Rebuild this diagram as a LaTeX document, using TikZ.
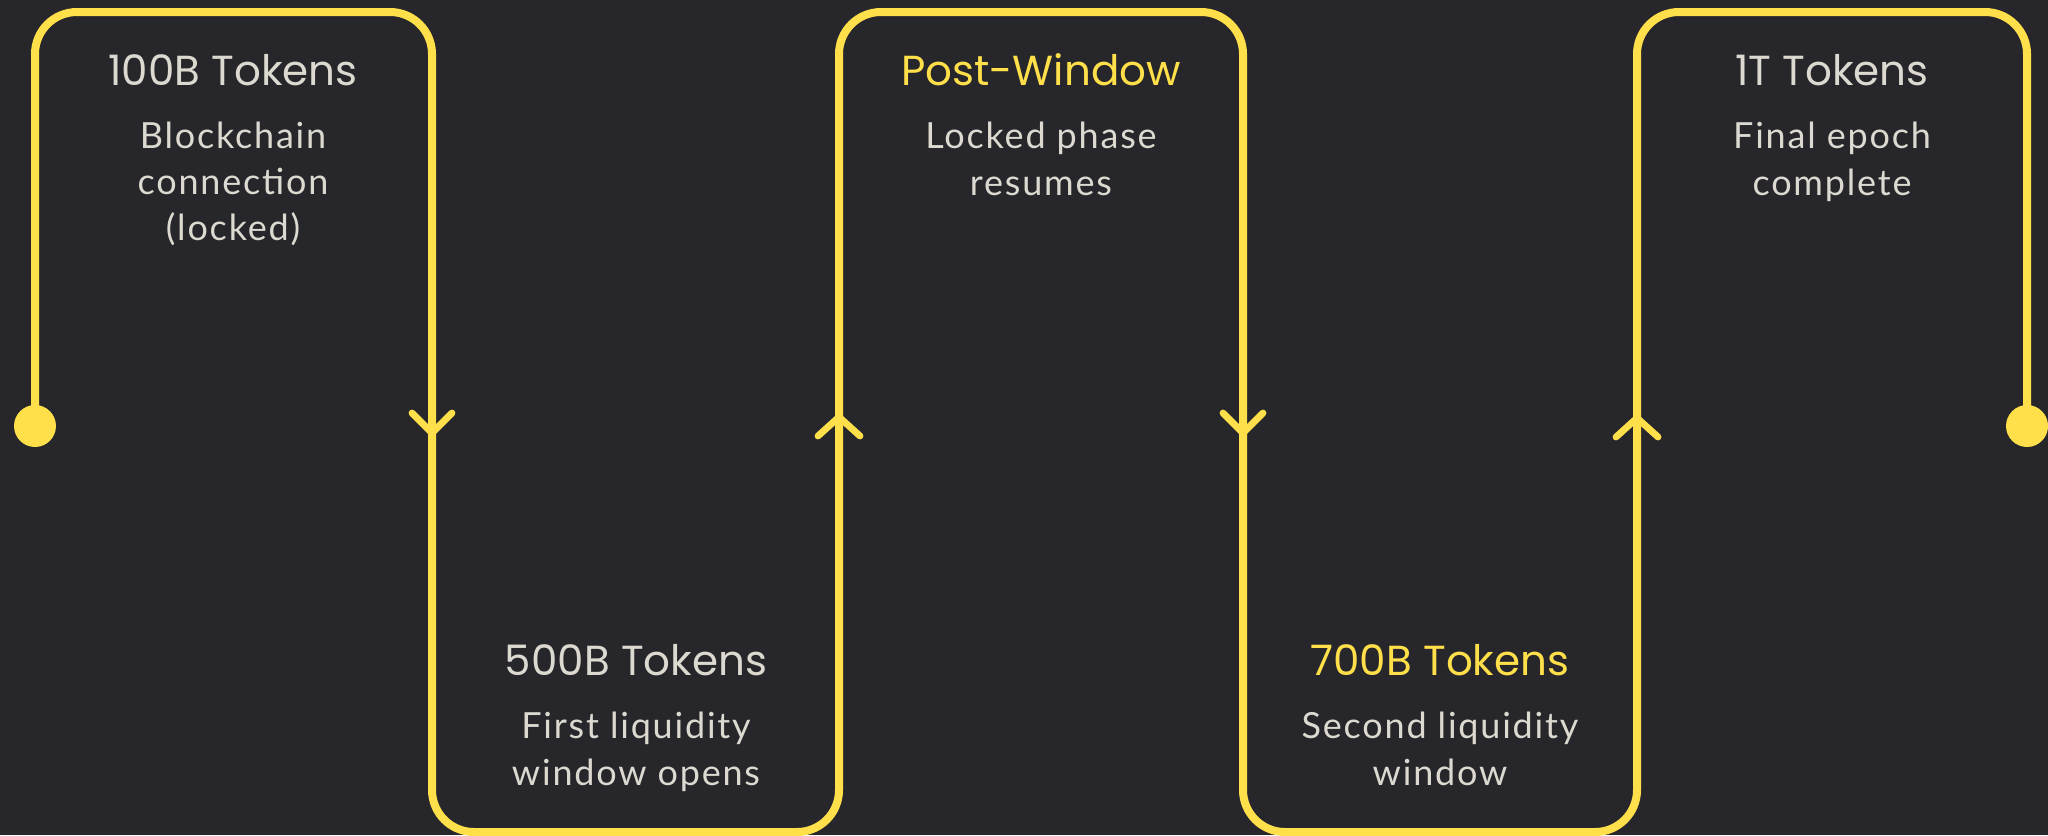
\documentclass[tikz,border=0pt]{standalone}
\usepackage{fontspec}
\newfontfamily\headfont{Poppins}
\newfontfamily\bodyfont{Lato}[LetterSpace=5]
\definecolor{bgdark}{HTML}{27262B}
\definecolor{trackyellow}{HTML}{FFE04A}
\definecolor{softgray}{HTML}{DCD9D0}
\tikzset{
  track/.style={draw=trackyellow, line width=4pt, rounded corners=21pt, line cap=round},
  chevron/.style={draw=trackyellow, line width=3.4pt, line cap=round, line join=round},
  enddot/.style={fill=trackyellow},
  headline/.style={font=\headfont\fontsize{21}{25}\selectfont, text=softgray, anchor=base, inner sep=0pt},
  headhi/.style={headline, text=trackyellow},
  bodyline/.style={font=\bodyfont\fontsize{18}{22}\selectfont, text=softgray, anchor=base, inner sep=0pt}
}
\begin{document}
\begin{tikzpicture}[x=0.5pt, y=-0.5pt]
  \useasboundingbox (0,0) rectangle (2048,835);
  \fill[bgdark] (0,0) rectangle (2048,835);

  % turning points of the serpentine track
  \coordinate (start) at (35,426);
  \coordinate (t1a) at (35,12);    \coordinate (t1b) at (432,12);
  \coordinate (b2a) at (432,832);  \coordinate (b2b) at (839,832);
  \coordinate (t3a) at (839,12);   \coordinate (t3b) at (1243,12);
  \coordinate (b4a) at (1243,832); \coordinate (b4b) at (1637,832);
  \coordinate (t5a) at (1637,12);  \coordinate (t5b) at (2027,12);
  \coordinate (finish) at (2027,426);

  \draw[track] (start) -- (t1a) -- (t1b) -- (b2a) -- (b2b) -- (t3a) -- (t3b)
               -- (b4a) -- (b4b) -- (t5a) -- (t5b) -- (finish);

  \fill[enddot] (start) circle (10.5pt);
  \fill[enddot] (finish) circle (10.5pt);

  % direction chevrons on the vertical runs
  \coordinate (d1) at (432,433);
  \coordinate (u1) at (839,417);
  \coordinate (d2) at (1243,433);
  \coordinate (u2) at (1637,418);
  \draw[chevron] ([shift={(-20,-20)}]d1) -- (d1) -- ([shift={(20,-20)}]d1);
  \draw[chevron] ([shift={(-21,19)}]u1) -- (u1) -- ([shift={(21,19)}]u1);
  \draw[chevron] ([shift={(-20,-20)}]d2) -- (d2) -- ([shift={(20,-20)}]d2);
  \draw[chevron] ([shift={(-21,19)}]u2) -- (u2) -- ([shift={(21,19)}]u2);

  % stage 1
  \node[headline] (h1) at (233,85) {100B Tokens};
  \node[bodyline] (s1a) at (233,148) {Blockchain};
  \node[bodyline] (s1b) at (233,194) {connection};
  \node[bodyline] (s1c) at (233,240) {(locked)};

  % stage 2
  \node[headline] (h2) at (636,675) {500B Tokens};
  \node[bodyline] (s2a) at (636,738) {First liquidity};
  \node[bodyline] (s2b) at (636,785) {window opens};

  % stage 3
  \node[headhi] (h3) at (1041,85) {Post-Window};
  \node[bodyline] (s3a) at (1041,148) {Locked phase};
  \node[bodyline] (s3b) at (1041,195) {resumes};

  % stage 4
  \node[headhi] (h4) at (1440,675) {700B Tokens};
  \node[bodyline] (s4a) at (1440,738) {Second liquidity};
  \node[bodyline] (s4b) at (1440,785) {window};

  % stage 5
  \node[headline] (h5) at (1832,85) {1T Tokens};
  \node[bodyline] (s5a) at (1832,148) {Final epoch};
  \node[bodyline] (s5b) at (1832,195) {complete};
\end{tikzpicture}
\end{document}
